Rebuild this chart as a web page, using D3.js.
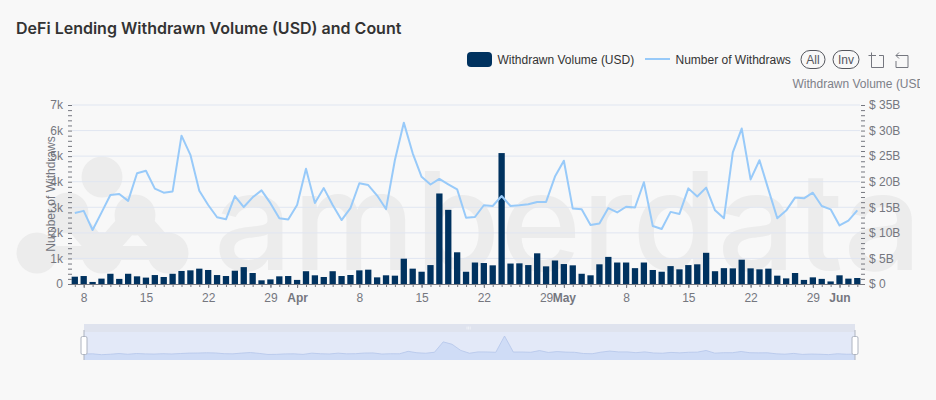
<!DOCTYPE html>
<html>
<head>
<meta charset="utf-8">
<title>DeFi Lending Withdrawn Volume (USD) and Count</title>
<script src="https://cdn.jsdelivr.net/npm/d3@7"></script>
<style>
  html, body { margin: 0; padding: 0; background: #f8f8f8; }
  svg { display: block; font-family: "Liberation Sans", sans-serif; }
</style>
</head>
<body>
<svg id="chart" width="936" height="400"></svg>
<script>
// Daily values, 7 Mar to 3 Jun
const firstDay = new Date(Date.UTC(2024, 2, 7));
const lastDay = new Date(Date.UTC(2024, 5, 3));

// USD billions
const volume = [
  1.43, 1.56, 0.4, 1.05, 2.0, 1.0, 2.0, 1.5, 1.25, 1.75, 1.37, 2.0, 2.55, 2.67, 3.0, 2.74,
  1.75, 1.56, 2.6, 3.3, 2.15, 0.72, 0.9, 1.5, 1.56, 0.8,
  2.5, 1.7, 1.37, 2.5, 1.56, 1.76, 2.67, 2.8, 1.3, 1.7, 1.63, 4.95, 3.0, 2.4, 3.7, 17.7,
  14.5, 6.2, 2.4, 4.2, 4.1, 3.65, 25.6, 4.0, 4.04, 3.7, 6.0, 3.45, 4.6,
  3.9, 3.65, 2.0, 1.7, 3.85, 5.3, 4.2, 4.2, 3.1, 4.2, 2.74, 2.4, 3.5, 2.87, 3.7, 3.85, 6.1,
  2.5, 3.1, 3.06, 4.75, 3.06, 2.87, 3.0, 1.63, 1.1, 2.15, 0.8, 1.3, 1.0, 0.5,
  1.7, 1.05, 1.17
];

// thousands of withdraws
const withdraws = [
  2.78, 2.86, 2.11, 2.79, 3.48, 3.52, 3.25, 4.33, 4.43, 3.73, 3.57, 3.62, 5.8, 5.05, 3.65, 3.09,
  2.61, 2.53, 3.44, 3.01, 3.39, 3.66, 3.16, 2.57, 2.52, 3.09,
  4.51, 3.17, 3.75, 3.09, 2.5, 2.97, 3.94, 3.87, 3.46, 2.93, 4.85, 6.31, 5.11, 4.19, 3.89, 4.11,
  3.9, 3.7, 2.59, 2.62, 3.08, 3.05, 3.44, 3.05, 3.08, 3.12, 3.21, 3.21, 4.2,
  4.82, 2.95, 2.92, 2.31, 2.37, 2.97, 2.8, 3.02, 2.99, 3.98, 2.27, 2.15, 2.82, 2.74, 3.74, 3.42, 3.77,
  2.88, 2.57, 5.15, 6.08, 4.09, 4.84, 3.7, 2.57, 2.87, 3.38, 3.35, 3.57, 3.05, 2.92,
  2.29, 2.48, 2.88
];

const countTicks = [0, 1000, 2000, 3000, 4000, 5000, 6000, 7000];
const volumeTicks = [0, 5, 10, 15, 20, 25, 30, 35];
const dateTickDays = [
  [2, 8], [2, 15], [2, 22], [2, 29], [3, 1], [3, 8], [3, 15], [3, 22], [3, 29],
  [4, 1], [4, 8], [4, 15], [4, 22], [4, 29], [5, 1]
];
const monthNames = ["Jan", "Feb", "Mar", "Apr", "May", "Jun"];

const days = d3.utcDay.range(firstDay, d3.utcDay.offset(lastDay, 1));
const dateTicks = dateTickDays.map(d => new Date(Date.UTC(2024, d[0], d[1])));

const grey = "#75777f";
const svg = d3.select("#chart");

const x = d3.scaleUtc().domain([firstDay, lastDay]).range([74.8, 857.3]);
const yCount = d3.scaleLinear().domain([0, 7000]).range([284, 105]);
const yVolume = d3.scaleLinear().domain([0, 35]).range([284, 105]);

// Title
svg.append("text")
  .attr("x", 16).attr("y", 34)
  .attr("font-family", "Inter, sans-serif")
  .attr("font-size", 16).attr("font-weight", 600)
  .attr("fill", "#333")
  .text("DeFi Lending Withdrawn Volume (USD) and Count");

// Watermark
const mark = svg.append("g").attr("fill", "#ececec").attr("stroke", "#ececec");
mark.append("path")
  .attr("fill", "none").attr("stroke-width", 22).attr("stroke-linecap", "round")
  .attr("d", "M68,213L102,253L135,215L168,253");
mark.append("path")
  .attr("fill", "none").attr("stroke-width", 14)
  .attr("d", "M37,253L168,253");
[[102, 177], [68, 213], [135, 215], [37, 253], [102, 253], [168, 253]].forEach(c => {
  mark.append("circle").attr("cx", c[0]).attr("cy", c[1]).attr("r", 20.5).attr("stroke", "none");
});
svg.append("text")
  .attr("x", 214).attr("y", 270)
  .attr("font-family", "Inter, sans-serif")
  .attr("font-size", 136).attr("font-weight", 500)
  .attr("textLength", 708).attr("lengthAdjust", "spacingAndGlyphs")
  .attr("fill", "#ececec")
  .text("amberdata");

// Gridlines
svg.append("g")
  .selectAll("line")
  .data(countTicks.slice(1))
  .join("line")
  .attr("x1", 72).attr("x2", 860)
  .attr("y1", d => yCount(d)).attr("y2", d => yCount(d))
  .attr("stroke", "#e0e6f1");

// Bars
svg.append("g")
  .selectAll("rect")
  .data(volume)
  .join("rect")
  .attr("x", (d, i) => x(days[i]) - 3.15)
  .attr("y", d => yVolume(d))
  .attr("width", 6.3)
  .attr("height", d => 284 - yVolume(d))
  .attr("fill", "#00325f");

// Line
const countLine = d3.line()
  .x((d, i) => x(days[i]))
  .y(d => yCount(d * 1000));
svg.append("path")
  .datum(withdraws)
  .attr("d", countLine)
  .attr("fill", "none")
  .attr("stroke", "#98caf9")
  .attr("stroke-width", 2)
  .attr("stroke-linejoin", "round");

// Left axis
const leftMinor = svg.append("g").attr("transform", "translate(72,0)")
  .call(d3.axisLeft(yCount).tickValues(d3.range(0, 7001, 200)).tickSize(4));
leftMinor.select(".domain").remove();
leftMinor.selectAll("text").remove();
leftMinor.selectAll("line").attr("stroke", grey);

const leftAxis = svg.append("g").attr("transform", "translate(72,0)")
  .call(d3.axisLeft(yCount).tickValues(countTicks).tickSize(0).tickPadding(9)
    .tickFormat(d => d === 0 ? "0" : (d / 1000) + "k"));
leftAxis.select(".domain").remove();
leftAxis.selectAll("text").attr("font-size", 12).attr("font-family", "Liberation Sans, sans-serif").attr("fill", grey);

// Right axis
const rightMinor = svg.append("g").attr("transform", "translate(861,0)")
  .call(d3.axisRight(yVolume).tickValues(d3.range(0, 35.01, 1)).tickSize(4));
rightMinor.select(".domain").remove();
rightMinor.selectAll("text").remove();
rightMinor.selectAll("line").attr("stroke", grey);

const rightAxis = svg.append("g").attr("transform", "translate(861,0)")
  .call(d3.axisRight(yVolume).tickValues(volumeTicks).tickSize(0).tickPadding(8)
    .tickFormat(d => d === 0 ? "$ 0" : "$ " + d + "B"));
rightAxis.select(".domain").remove();
rightAxis.selectAll("text").attr("font-size", 12).attr("font-family", "Liberation Sans, sans-serif").attr("fill", grey);

// Bottom axis: a small tick per day and a longer one per label
const dayAxis = svg.append("g").attr("transform", "translate(0,284)")
  .call(d3.axisBottom(x).tickValues(days).tickSize(3));
dayAxis.select(".domain").remove();
dayAxis.selectAll("text").remove();
dayAxis.selectAll("line").attr("stroke", grey);

const bottomAxis = svg.append("g").attr("transform", "translate(0,284)")
  .call(d3.axisBottom(x).tickValues(dateTicks).tickSize(4).tickPadding(5)
    .tickFormat(d => d.getUTCDate() === 1 ? monthNames[d.getUTCMonth()] : d.getUTCDate()));
bottomAxis.select(".domain").remove();
bottomAxis.selectAll("line").attr("stroke", grey);
bottomAxis.selectAll("text")
  .attr("font-size", 12)
  .attr("font-family", "Liberation Sans, sans-serif")
  .attr("font-weight", d => d.getUTCDate() === 1 ? 700 : 400)
  .attr("fill", grey);
svg.append("line")
  .attr("x1", 71).attr("x2", 861).attr("y1", 284.5).attr("y2", 284.5)
  .attr("stroke", grey);

// Axis names
svg.append("text")
  .attr("transform", "translate(55,194) rotate(-90)")
  .attr("text-anchor", "middle")
  .attr("font-size", 12).attr("fill", grey)
  .text("Number of Withdraws");

svg.append("clipPath").attr("id", "rightName")
  .append("rect").attr("x", 780).attr("y", 70).attr("width", 140).attr("height", 30);
svg.append("text")
  .attr("x", 792.5).attr("y", 88)
  .attr("clip-path", "url(#rightName)")
  .attr("font-size", 12).attr("fill", "#7d8088")
  .text("Withdrawn Volume (USD)");

// Legend
svg.append("rect")
  .attr("x", 467).attr("y", 52).attr("width", 25).attr("height", 15).attr("rx", 4)
  .attr("fill", "#00325f");
svg.append("text")
  .attr("x", 497.5).attr("y", 63.5)
  .attr("font-size", 12).attr("fill", "#333")
  .text("Withdrawn Volume (USD)");
svg.append("line")
  .attr("x1", 645).attr("x2", 670).attr("y1", 59).attr("y2", 59)
  .attr("stroke", "#98caf9").attr("stroke-width", 2);
svg.append("text")
  .attr("x", 675.5).attr("y", 63.5)
  .attr("font-size", 12).attr("fill", "#333")
  .text("Number of Withdraws");

// Legend buttons and toolbox icons
[["All", 801, 24], ["Inv", 833, 26]].forEach(b => {
  svg.append("rect")
    .attr("x", b[1]).attr("y", 50.5).attr("width", b[2]).attr("height", 18).attr("rx", 9)
    .attr("fill", "none").attr("stroke", "#55575e");
  svg.append("text")
    .attr("x", b[1] + b[2] / 2).attr("y", 63.5)
    .attr("text-anchor", "middle")
    .attr("font-size", 12).attr("fill", "#55575e")
    .text(b[0]);
});
svg.append("path")
  .attr("fill", "none").attr("stroke", grey)
  .attr("d", "M868.5,55.5H876M871.5,52.5V67.5H883.5V55.5H879");
svg.append("path")
  .attr("fill", "none").attr("stroke", grey)
  .attr("d", "M899,52.5L896,55.5L899,58.5M896,55.5H908V67.5H896V61");

// Slider
const sx = d3.scaleUtc().domain([firstDay, lastDay]).range([84, 855]);
const sy = d3.scaleLinear().domain([0, 25.6]).range([355, 336]);

svg.append("rect")
  .attr("x", 84).attr("y", 324).attr("width", 771).attr("height", 36)
  .attr("fill", "#e3e9f8");
svg.append("rect")
  .attr("x", 84).attr("y", 324).attr("width", 771).attr("height", 8)
  .attr("fill", "#dfe3ee");
svg.append("path")
  .datum(volume)
  .attr("d", d3.area().x((d, i) => sx(days[i])).y0(360).y1(d => sy(d)))
  .attr("fill", "#cfdcf6");
svg.append("path")
  .datum(volume)
  .attr("d", d3.line().x((d, i) => sx(days[i])).y(d => sy(d)))
  .attr("fill", "none").attr("stroke", "#b4c5ea").attr("stroke-width", 0.8);

// Grip marks on the slider bar
d3.range(3).forEach(i => {
  svg.append("line")
    .attr("x1", 467 + i * 1.6).attr("x2", 467 + i * 1.6).attr("y1", 326.5).attr("y2", 329.5)
    .attr("stroke", "#fff").attr("stroke-width", 0.5);
});

[84, 855].forEach(hx => {
  svg.append("line")
    .attr("x1", hx).attr("x2", hx).attr("y1", 330).attr("y2", 360)
    .attr("stroke", "#aeb4c0");
  svg.append("rect")
    .attr("x", hx - 3).attr("y", 336.5).attr("width", 6).attr("height", 18).attr("rx", 1.5)
    .attr("fill", "#fff").attr("stroke", "#aeb4c0");
});
</script>
</body>
</html>
